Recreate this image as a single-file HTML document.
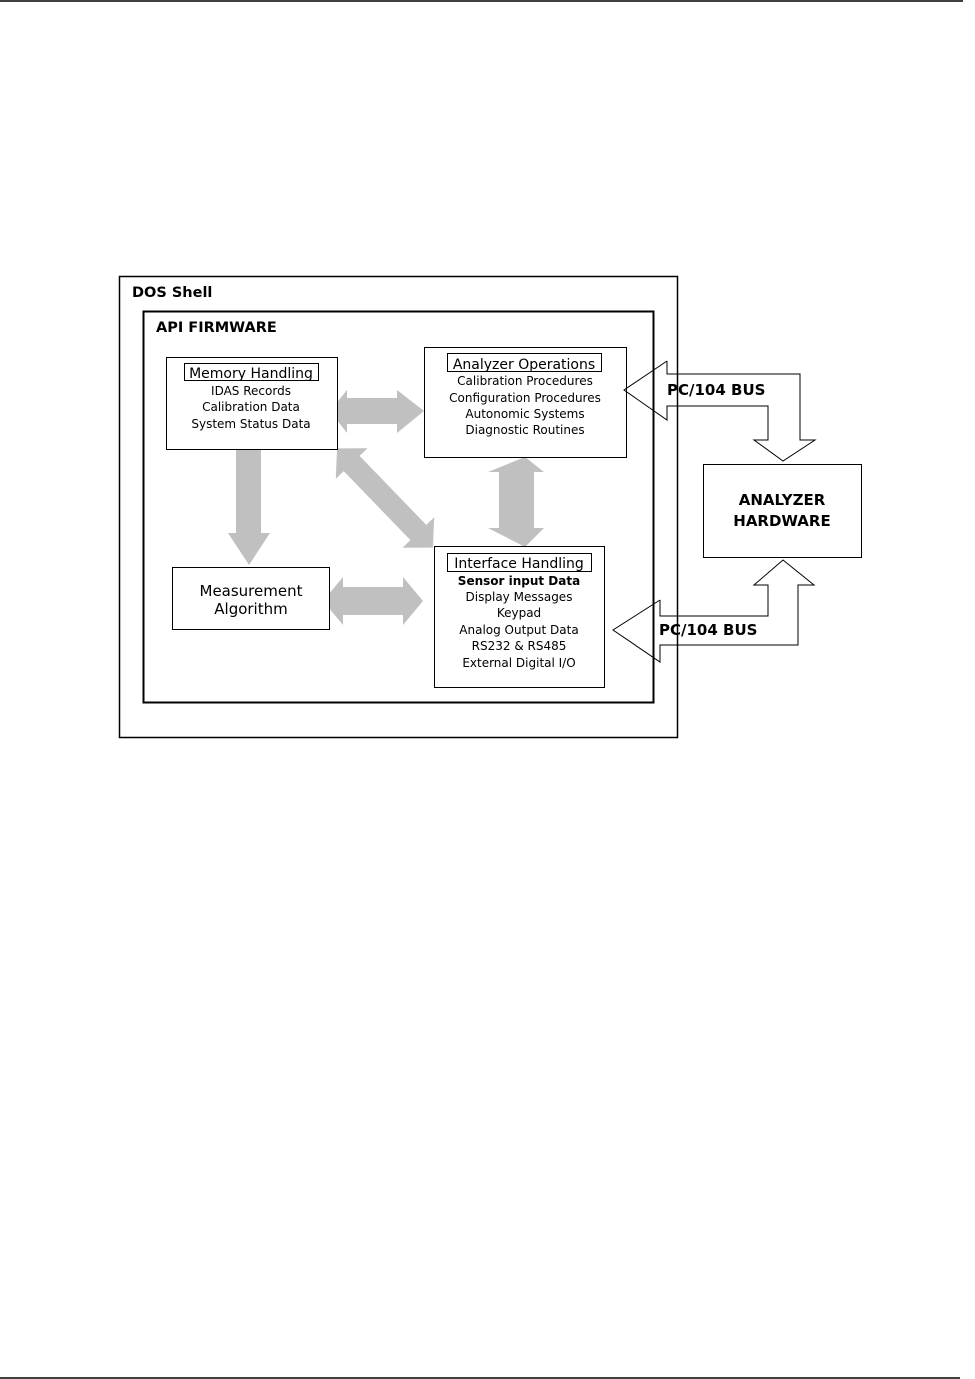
<!DOCTYPE html>
<html><head><meta charset="utf-8"><style>
html,body{margin:0;padding:0;background:#fff;}
svg{display:block;}
text{font-family:"DejaVu Sans","Liberation Sans",sans-serif;fill:#000;}
</style></head><body>
<svg width="975" height="1379" viewBox="0 0 975 1379" xmlns="http://www.w3.org/2000/svg">
<line x1="0" y1="1" x2="963" y2="1" stroke="#000" stroke-width="1.5"/>
<line x1="0" y1="1378" x2="960" y2="1378" stroke="#000" stroke-width="1.5"/>

<rect x="119.5" y="276.5" width="558" height="461" fill="none" stroke="#000" stroke-width="1.5"/>
<text x="132" y="297" font-size="14.5" font-weight="bold">DOS Shell</text>
<rect x="143.5" y="311.5" width="510" height="391" fill="none" stroke="#000" stroke-width="2"/>
<text x="156" y="332" font-size="14.5" font-weight="bold">API FIRMWARE</text>

<g fill="#c0c0c0">
<polygon points="330,411 347,390 347,398 397,398 397,390 424,411 397,433 397,424 347,424 347,433"/>
<polygon points="236,449 261,449 261,533 270,533 249,565 228,533 236,533"/>
<polygon points="525,457 531,472 521,472 521,528 531,528 525,547 488,528 499,528 499,472 488,472" transform="translate(0,0)"/>
<polygon points="323,601 343,577 343,587 403,587 403,577 423,601 403,625 403,615 343,615 343,625"/>
<g transform="translate(385,498) rotate(46)">
<polygon points="-69,0 -48,-22 -48,-11 48,-11 48,-22 69,0 48,22 48,11 -48,11 -48,22"/>
</g>
</g>
<polygon points="525,457 544,472 534,472 534,528 544,528 525,547 506,528 516,528 516,472 506,472" fill="#c0c0c0"/>

<rect x="166.5" y="357.5" width="171" height="92" fill="#fff" stroke="#000"/>
<rect x="184.5" y="363.5" width="134" height="17" fill="none" stroke="#000"/>
<text x="251" y="378" font-size="14" text-anchor="middle">Memory Handling</text>
<text x="251" y="395" font-size="12" text-anchor="middle">IDAS Records</text>
<text x="251" y="411" font-size="12" text-anchor="middle">Calibration Data</text>
<text x="251" y="428" font-size="12" text-anchor="middle">System Status Data</text>

<rect x="424.5" y="347.5" width="202" height="110" fill="#fff" stroke="#000"/>
<rect x="447.5" y="353.5" width="154" height="18" fill="none" stroke="#000"/>
<text x="524" y="369" font-size="14" text-anchor="middle">Analyzer Operations</text>
<text x="525" y="385" font-size="12" text-anchor="middle">Calibration Procedures</text>
<text x="525" y="402" font-size="12" text-anchor="middle">Configuration Procedures</text>
<text x="525" y="418" font-size="12" text-anchor="middle">Autonomic Systems</text>
<text x="525" y="434" font-size="12" text-anchor="middle">Diagnostic Routines</text>

<rect x="172.5" y="567.5" width="157" height="62" fill="#fff" stroke="#000"/>
<text x="251" y="596" font-size="15" text-anchor="middle">Measurement</text>
<text x="251" y="614" font-size="15" text-anchor="middle">Algorithm</text>

<rect x="434.5" y="546.5" width="170" height="141" fill="#fff" stroke="#000"/>
<rect x="447.5" y="553.5" width="144" height="18" fill="none" stroke="#000"/>
<text x="519" y="568" font-size="14" text-anchor="middle">Interface Handling</text>
<text x="519" y="585" font-size="12" font-weight="bold" text-anchor="middle">Sensor input Data</text>
<text x="519" y="601" font-size="12" text-anchor="middle">Display Messages</text>
<text x="519" y="617" font-size="12" text-anchor="middle">Keypad</text>
<text x="519" y="634" font-size="12" text-anchor="middle">Analog Output Data</text>
<text x="519" y="650" font-size="12" text-anchor="middle">RS232 &amp; RS485</text>
<text x="519" y="667" font-size="12" text-anchor="middle">External Digital I/O</text>

<g fill="none" stroke="#000" stroke-width="1">
<polyline points="667,361 624,390 667,420 667,406 768,406 768,440 754,440 783,461 815,440 800,440 800,374 667,374 667,361"/>
<polyline points="660,600 613,630 660,662 660,645 798,645 798,585 814,585 783,560 754,585 768,585 768,616 660,616 660,600"/>
</g>
<text x="667" y="395" font-size="15" font-weight="bold">PC/104 BUS</text>
<text x="659" y="635" font-size="15" font-weight="bold">PC/104 BUS</text>

<rect x="703.5" y="464.5" width="158" height="93" fill="#fff" stroke="#000"/>
<text x="782" y="505" font-size="15" font-weight="bold" text-anchor="middle">ANALYZER</text>
<text x="782" y="526" font-size="15" font-weight="bold" text-anchor="middle">HARDWARE</text>
</svg>
</body></html>
